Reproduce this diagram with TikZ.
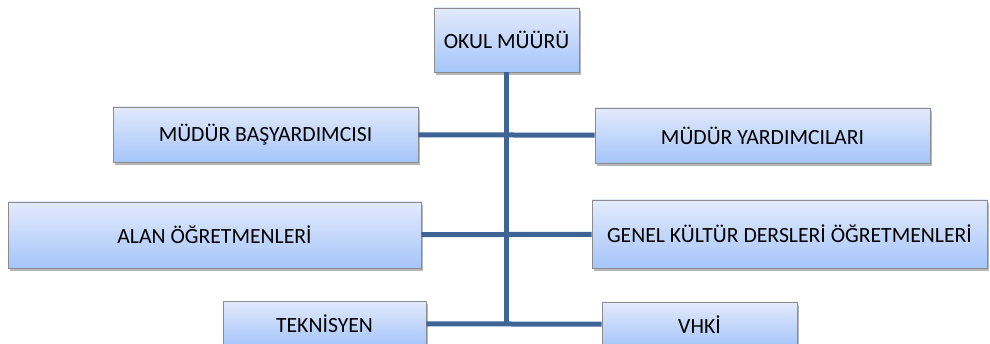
\documentclass[tikz,border=0pt]{standalone}
\usepackage{fontspec}
\setmainfont{Carlito}
\usepackage{tikz}
\usetikzlibrary{positioning,shadows,calc}
\definecolor{boxtop}{RGB}{227,234,252}
\definecolor{boxbot}{RGB}{165,197,250}
\definecolor{boxline}{RGB}{140,140,140}
\definecolor{linkblue}{RGB}{62,100,150}
\tikzstyle{unit} = [rectangle, draw=boxline, line width=0.8pt, top color=boxtop, bottom color=boxbot, text centered, inner sep=0pt, font=\fontsize{21.7}{25}\selectfont, drop shadow={shadow xshift=2pt, shadow yshift=-3pt, opacity=0.4, fill=black!70}]
\tikzstyle{link} = [line width=5pt, draw=linkblue]

\begin{document}
\begin{tikzpicture}[x=1pt,y=1pt]
\useasboundingbox (0,0) rectangle (990,343);

\node (mudur) [unit, minimum width=145pt, minimum height=64pt] at (506.5,303) {OKUL MÜÜRÜ};

\node (basyard) [unit, minimum width=305pt, minimum height=55pt] at (265.5,208.5) {MÜDÜR BAŞYARDIMCISI};
\node (yard) [unit, minimum width=335pt, minimum height=55pt] at (762.5,207.5) {MÜDÜR YARDIMCILARI};

\node (alan) [unit, minimum width=413pt, minimum height=66pt] at (214.5,108) {ALAN ÖĞRETMENLERİ};
\node (genel) [unit, minimum width=395pt, minimum height=68pt] at (789.5,109) {GENEL KÜLTÜR DERSLERİ ÖĞRETMENLERİ};

\node (tekn) [unit, minimum width=203pt, minimum height=45pt] at (324.5,19.5) {TEKNİSYEN};
\node (vhki) [unit, minimum width=195pt, minimum height=45pt] at (699.5,18.5) {VHKİ};

%lines
\coordinate (trunk) at (mudur |- tekn);
\draw [link] (mudur) -- (trunk);
\draw [link] (basyard) -- (yard);
\draw [link] (alan) -- (genel);
\draw [link] (tekn) -- (vhki);
\end{tikzpicture}
\end{document}
